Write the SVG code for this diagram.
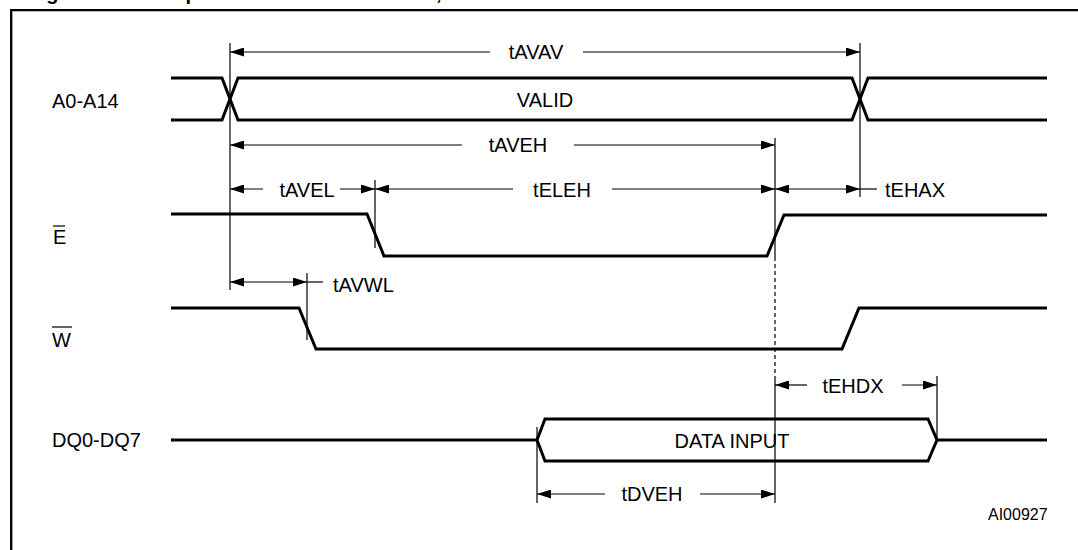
<svg xmlns="http://www.w3.org/2000/svg" width="1078" height="550" viewBox="0 0 1078 550">
<defs>
<marker id="ah" viewBox="0 0 14 9" refX="14" refY="4.5" markerWidth="14" markerHeight="9" markerUnits="userSpaceOnUse" orient="auto-start-reverse">
<path d="M0,0 L14,4.5 L0,9 z" fill="#000"/>
</marker>
</defs>
<style>
.sig{fill:none;stroke:#000;stroke-width:3;stroke-linejoin:miter}
.thin{fill:none;stroke:#000;stroke-width:1.2}
.dim{fill:none;stroke:#000;stroke-width:1.2}
.ms{marker-start:url(#ah)}
.me{marker-end:url(#ah)}
.lbl{font-family:"Liberation Sans",Arial,sans-serif;font-size:20px;fill:#000}
.mid{text-anchor:middle}
.small{font-family:"Liberation Sans",Arial,sans-serif;font-size:16px;fill:#000}
.title{font-family:"Liberation Sans",Arial,sans-serif;font-size:20px;font-weight:bold;fill:#000}
</style>
<rect width="1078" height="550" fill="#fff"/>
<text class="title" x="22" y="0" textLength="683" lengthAdjust="spacing">Figure 9. Chip Enable Controlled, Write AC Waveforms</text>
<path d="M11.2,550 V10.2 H1078" fill="none" stroke="#000" stroke-width="2.3"/>

<g id="sig-addr">
<text class="lbl" x="52" y="108">A0-A14</text>
<path class="sig" d="M171,78 H222 L238,120 H852 L868,78 H1047"/>
<path class="sig" d="M171,120 H222 L238,78 H852 L868,120 H1047"/>
<text class="lbl mid" x="545" y="107">VALID</text>
</g>

<g id="sig-e">
<text class="lbl" x="53" y="244">E</text>
<line class="thin" x1="53" y1="226" x2="65" y2="226" stroke-width="1.5"/>
<path class="sig" d="M171,214 H367 L384,256 H767 L784,215 H1047"/>
</g>

<g id="sig-w">
<text class="lbl" x="52" y="347">W</text>
<line class="thin" x1="52" y1="327" x2="72" y2="327" stroke-width="1.5"/>
<path class="sig" d="M171,308 H299 L316,349 H842 L859,308 H1047"/>
</g>

<g id="sig-dq">
<text class="lbl" x="52" y="447">DQ0-DQ7</text>
<path class="sig" d="M171,440 H537 L545,419 H928 L937,440 L928,461 H545 L537,440 M937,440 H1047"/>
<text class="lbl mid" x="732" y="448">DATA INPUT</text>
</g>

<g id="connectors">
<line class="thin" x1="230" y1="43" x2="230" y2="290"/>
<line class="thin" x1="860" y1="43" x2="860" y2="197"/>
<line class="thin" x1="375" y1="180" x2="375" y2="248"/>
<line class="thin" x1="775" y1="138" x2="775" y2="257"/>
<line class="thin" x1="775" y1="257" x2="775" y2="377" stroke-dasharray="4,3"/>
<line class="thin" x1="775" y1="377" x2="775" y2="503"/>
<line class="thin" x1="307" y1="273" x2="307" y2="340"/>
<line class="thin" x1="937" y1="376" x2="937" y2="440"/>
<line class="thin" x1="537" y1="427" x2="537" y2="503"/>

<line class="dim ms" x1="230" y1="52" x2="490" y2="52"/>
<line class="dim me" x1="583" y1="52" x2="860" y2="52"/>
<line class="dim ms" x1="230" y1="145" x2="462" y2="145"/>
<line class="dim me" x1="574" y1="145" x2="775" y2="145"/>
<line class="dim ms" x1="230" y1="189" x2="263" y2="189"/>
<line class="dim me" x1="340" y1="189" x2="375" y2="189"/>
<line class="dim ms" x1="375" y1="189" x2="513" y2="189"/>
<line class="dim me" x1="612" y1="189" x2="775" y2="189"/>
<line class="dim ms me" x1="775" y1="189" x2="860" y2="189"/>
<line class="dim" x1="860" y1="189" x2="877" y2="189"/>
<line class="dim ms me" x1="230" y1="282" x2="307" y2="282"/>
<line class="dim" x1="307" y1="282" x2="323" y2="282"/>
<line class="dim ms" x1="775" y1="385" x2="807" y2="385"/>
<line class="dim me" x1="902" y1="385" x2="937" y2="385"/>
<line class="dim ms" x1="537" y1="494" x2="605" y2="494"/>
<line class="dim me" x1="700" y1="494" x2="775" y2="494"/>
</g>

<g id="labels">
<text class="lbl mid" x="536" y="59">tAVAV</text>
<text class="lbl mid" x="518" y="152">tAVEH</text>
<text class="lbl mid" x="307" y="197">tAVEL</text>
<text class="lbl mid" x="562" y="197">tELEH</text>
<text class="lbl" x="885" y="197">tEHAX</text>
<text class="lbl" x="333" y="292">tAVWL</text>
<text class="lbl mid" x="853" y="393">tEHDX</text>
<text class="lbl mid" x="652" y="501">tDVEH</text>
<text class="small" x="988" y="520">AI00927</text>
</g>
</svg>
